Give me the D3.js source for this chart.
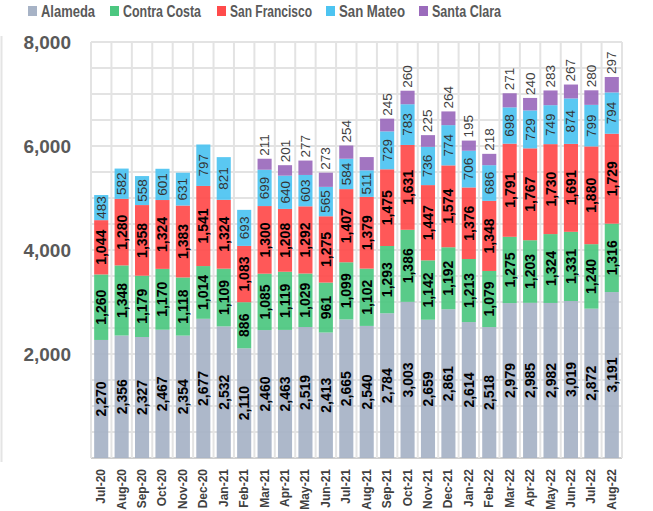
<!DOCTYPE html>
<html><head><meta charset="utf-8">
<script src="https://cdn.jsdelivr.net/npm/d3@7"></script>
<style>body{margin:0;background:#fff}svg{display:block}</style>
</head><body>
<svg id="c" width="653" height="511"></svg>
<script>
const months = ["Jul-20","Aug-20","Sep-20","Oct-20","Nov-20","Dec-20","Jan-21","Feb-21","Mar-21","Apr-21","May-21","Jun-21","Jul-21","Aug-21","Sep-21","Oct-21","Nov-21","Dec-21","Jan-22","Feb-22","Mar-22","Apr-22","May-22","Jun-22","Jul-22","Aug-22"];
const seriesNames = ["Alameda","Contra Costa","San Francisco","San Mateo","Santa Clara"];
const alameda = [2270,2356,2327,2467,2354,2677,2532,2110,2460,2463,2519,2413,2665,2540,2784,3003,2659,2861,2614,2518,2979,2985,2982,3019,2872,3191];
const contraCosta = [1260,1348,1179,1170,1118,1014,1109,886,1085,1119,1029,961,1099,1102,1293,1386,1142,1192,1213,1079,1275,1203,1324,1331,1240,1316];
const sanFrancisco = [1044,1280,1358,1324,1383,1541,1324,1083,1300,1208,1292,1275,1407,1379,1475,1631,1447,1574,1376,1348,1791,1767,1730,1691,1880,1729];
const sanMateo = [483,582,558,601,631,797,821,693,699,640,603,565,584,511,729,783,736,774,706,686,698,729,749,874,799,794];
const santaClara = [null,null,null,null,null,null,null,null,211,201,277,273,254,255,245,260,225,264,195,218,271,240,283,267,280,297];
// Aug-21 Santa Clara has no data label in the original
const santaClaraLabelShown = months.map(m => m !== "Aug-21");
const yTicks = [2000,4000,6000,8000];
const colors = ["#A7B3C6","#4CC780","#FF4B4B","#4DC4F1","#9B6BBC"];

const svg = d3.select("#c");
const L = 91, R = 622, T = 42, B = 458;
const x = d3.scaleBand().domain(months).range([L,R]).paddingInner(0.31).paddingOuter(0.155);
const y = d3.scaleLinear().domain([0,8000]).range([B,T]);
const step = x.step();

// left faint frame line
svg.append("line").attr("x1",1.5).attr("x2",1.5).attr("y1",36).attr("y2",462).attr("stroke","#e4e4e4").attr("stroke-width",2);

// grid
const g = svg.append("g");
d3.range(0,8001,500).forEach(v=>{
  g.append("line").attr("x1",L).attr("x2",R).attr("y1",y(v)).attr("y2",y(v))
   .attr("stroke", v===0 ? "#cfcfcf" : "#e3e3e3").attr("stroke-width",2);
});
for(let i=0;i<=months.length;i++){
  const xx = L + i*step;
  g.append("line").attr("x1",xx).attr("x2",xx).attr("y1",T).attr("y2",B)
   .attr("stroke","#e3e3e3").attr("stroke-width",2);
}

// stacked data
const rows = months.map((m,i)=>({month:m,"Alameda":alameda[i],"Contra Costa":contraCosta[i],"San Francisco":sanFrancisco[i],"San Mateo":sanMateo[i],"Santa Clara":santaClara[i]||0}));
const stack = d3.stack().keys(seriesNames)(rows);

const bars = svg.append("g");
stack.forEach((layer,si)=>{
  bars.selectAll(null).data(layer).enter().append("rect")
    .attr("x",d=>x(d.data.month)).attr("width",x.bandwidth())
    .attr("y",d=>y(d[1])).attr("height",d=>Math.max(0,y(d[0])-y(d[1])))
    .attr("fill",colors[si]).attr("fill-opacity",0.93);
});

const fmt = d3.format(",");
const lab = svg.append("g");
stack.forEach((layer,si)=>{
  layer.forEach((d,i)=>{
    const v = d[1]-d[0];
    if(!v) return;
    const cx = x(d.data.month)+x.bandwidth()/2;
    if(si<4){
      const cy = (y(d[0])+y(d[1]))/2;
      lab.append("text").attr("transform",`translate(${cx},${cy}) rotate(-90)`)
        .attr("text-anchor","middle").attr("dominant-baseline","central")
        .attr("font-family","Liberation Sans, Arial, sans-serif")
        .attr("font-size", si<3 ? 14 : 13.5).attr("font-weight", si<3 ? "bold" : "normal")
        .attr("fill", si<3 ? "#000" : "#333").text(fmt(v));
    } else if (santaClaraLabelShown[i]) {
      lab.append("text").attr("transform",`translate(${cx},${y(d[1])-3}) rotate(-90)`)
        .attr("text-anchor","start").attr("dominant-baseline","central")
        .attr("font-family","Liberation Sans, Arial, sans-serif")
        .attr("font-size",13.5).attr("fill","#404040").text(fmt(v));
    }
  });
});

// y axis labels
yTicks.forEach(v=>{
  svg.append("text").attr("x",71).attr("y",y(v)).attr("text-anchor","end").attr("dominant-baseline","central")
    .attr("font-family","Liberation Sans, Arial, sans-serif").attr("font-size",19).attr("font-weight","bold")
    .attr("fill","#595959").text(fmt(v));
});

// x axis labels
months.forEach(m=>{
  svg.append("text").attr("transform",`translate(${x(m)+x.bandwidth()/2},469) rotate(-90)`)
    .attr("text-anchor","end").attr("dominant-baseline","central")
    .attr("font-family","Liberation Sans, Arial, sans-serif").attr("font-size",12).attr("font-weight","bold")
    .attr("fill","#404040").text(m);
});

// legend
const legX = [28,110,217,326,419];
const legW = [54,78,82,66,69];
seriesNames.forEach((s,i)=>{
  svg.append("rect").attr("x",legX[i]).attr("y",6).attr("width",9).attr("height",10).attr("fill",colors[i]);
  svg.append("text").attr("x",legX[i]+13).attr("y",16.5)
    .attr("font-family","Liberation Sans, Arial, sans-serif").attr("font-size",16).attr("font-weight","bold")
    .attr("textLength",legW[i]).attr("lengthAdjust","spacingAndGlyphs")
    .attr("fill","#595959").text(s);
});
</script>
</body></html>
